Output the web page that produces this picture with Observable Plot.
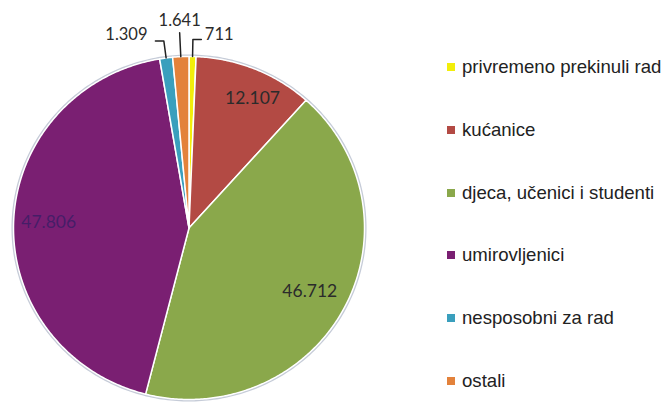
<!DOCTYPE html>
<html><head><meta charset="utf-8">
<script src="https://cdn.jsdelivr.net/npm/d3@7"></script>
<script src="https://cdn.jsdelivr.net/npm/@observablehq/plot@0.6"></script>
<style>
body{margin:0;background:#fff;}
#chart{position:relative;width:666px;height:405px;overflow:hidden;}
#legend{position:absolute;left:447px;top:35.6px;font-family:"Liberation Sans",Arial,sans-serif;font-size:18.6px;color:#222;}
.row{height:62.8px;display:flex;align-items:center;white-space:nowrap;}
.sw{width:8px;height:8px;margin-right:7px;flex:none;}
</style></head><body><div id="chart"></div>
<script>
const categories = ["privremeno prekinuli rad", "kućanice", "djeca, učenici i studenti", "umirovljenici", "nesposobni za rad", "ostali"];
const values = [711, 12107, 46712, 47806, 1309, 1641];
const valueLabels = ["711", "12.107", "46.712", "47.806", "1.309", "1.641"];
const colors = ["#f2ee0a", "#b34a44", "#8aa84b", "#7a1f72", "#3a9fbd", "#e3823b"];

const arcs = d3.pie().sort(null).value(d => d)(values);

// slice outlines in unit pie coordinates (0 = 12 o'clock, clockwise)
const verts = [];
arcs.forEach((a, i) => {
  const name = categories[i];
  verts.push({name, x: 0, y: 0});
  const n = Math.max(2, Math.ceil((a.endAngle - a.startAngle) / 0.01));
  for (let k = 0; k <= n; k++) {
    const t = a.startAngle + (a.endAngle - a.startAngle) * k / n;
    verts.push({name, x: Math.sin(t), y: Math.cos(t)});
  }
  verts.push({name, x: 0, y: 0});
});
const ring = d3.range(0, 361).map(d => ({x: 1.006 * Math.sin(d * Math.PI / 180), y: 1.006 * Math.cos(d * Math.PI / 180)}));

const mid = a => (a.startAngle + a.endAngle) / 2;
// label placement inside the large slices (radius fraction, angular nudge)
const insideCfg = {1: [0.84, 0.06], 2: [0.78, 0], 3: [0.80, 0]};
const inside = [1, 2, 3].map(i => {
  const [r, da] = insideCfg[i];
  const t = mid(arcs[i]) + da;
  return {label: valueLabels[i], i, x: r * Math.sin(t), y: r * Math.cos(t)};
});

// small slices with leader lines: side -1 left, 0 straight up, 1 right
const outsideCfg = [{i: 4, side: -1, r: 1.1}, {i: 5, side: 0, r: 1.14}, {i: 0, side: 1, r: 1.1}];
const leaders = [];
const outside = [];
outsideCfg.forEach(({i, side, r}) => {
  const m = mid(arcs[i]);
  const ex = Math.sin(m), ey = Math.cos(m);
  const bx = r * Math.sin(m), by = r * Math.cos(m);
  const sx = bx + side * 0.048;
  leaders.push({i, x: ex, y: ey}, {i, x: bx, y: by}, {i, x: sx, y: by});
  outside.push({label: valueLabels[i], side, x: sx + side * (side < 0 ? 0.045 : 0.02), y: by});
});

const textOpts = {x: "x", y: "y", text: "label", fontFamily: "Lato", fontSize: 16.5, fill: "#2b2b2b"};
const plot = Plot.plot({
  width: 666, height: 405,
  marginLeft: 13, marginRight: 302, marginTop: 56, marginBottom: 6,
  x: {domain: [-1, 1], axis: null},
  y: {domain: [-1, 1], axis: null},
  color: {domain: categories, range: colors},
  style: {background: "#fff", overflow: "visible"},
  marks: [
    Plot.line(ring, {x: "x", y: "y", stroke: "#c6ccd8", strokeWidth: 2}),
    Plot.line(verts, {x: "x", y: "y", z: "name", fill: "name", stroke: "white", strokeWidth: 1.5, strokeLinejoin: "round"}),
    Plot.text(inside.filter(d => d.i !== 3), {x: "x", y: "y", text: "label", fontFamily: "Lato", fontSize: 17.5, fill: "#2b2b2b"}),
    Plot.text(inside.filter(d => d.i === 3), {x: "x", y: "y", text: "label", fontFamily: "Lato", fontSize: 17.5, fill: "#3c1d66", fillOpacity: 0.85}),
    Plot.line(leaders, {x: "x", y: "y", z: "i", stroke: "#222", strokeWidth: 1.5}),
    Plot.text(outside.filter(d => d.side < 0), {...textOpts, dy: -6, textAnchor: "end"}),
    Plot.text(outside.filter(d => d.side > 0), {...textOpts, dy: -5, textAnchor: "start"}),
    Plot.text(outside.filter(d => d.side === 0), {...textOpts, dy: -12, textAnchor: "middle"})
  ]
});

const chart = document.getElementById("chart");
chart.appendChild(plot);
const color = plot.scale("color");
const legend = document.createElement("div");
legend.id = "legend";
categories.forEach((c, i) => {
  const row = document.createElement("div");
  row.className = "row";
  const sw = document.createElement("span");
  sw.className = "sw";
  sw.style.background = color.range[color.domain.indexOf(c)];
  const tx = document.createElement("span");
  tx.textContent = c;
  row.appendChild(sw); row.appendChild(tx);
  legend.appendChild(row);
});
chart.appendChild(legend);
</script></body></html>
